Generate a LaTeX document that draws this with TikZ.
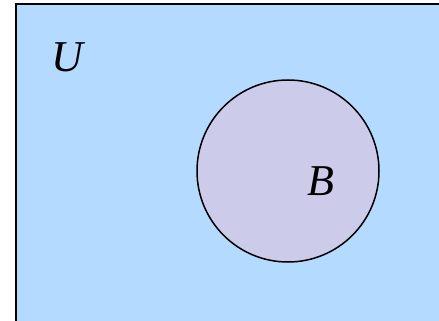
\documentclass[tikz,border=0pt]{standalone}
\usepackage{fontspec}
\setmainfont{Liberation Serif}
\usepackage{tikz}
\usetikzlibrary{positioning}
\definecolor{VUniv}{RGB}{181,218,255}
\definecolor{VSet} {RGB}{204,204,234}

\begin{document}
\begin{tikzpicture}[
  x=1pt, y=-1pt,
  univ/.style = {draw=black, fill=VUniv, line width=2.4pt},
  setb/.style = {draw=black, fill=VSet, line width=1.5pt},
  lbl/.style  = {font=\fontsize{44}{44}\selectfont\itshape, inner sep=0pt}
]
\useasboundingbox (0,0) rectangle (439,321);
\begin{scope}
\clip (0,0) rectangle (439,321);
\draw[univ] (16,4) rectangle (470,340);
\end{scope}
\draw[setb] (288,171) circle (91);
\node[lbl] (U) at (67,57) {U};
\node[lbl] (B) at (321,181) {B};
\end{tikzpicture}
\end{document}
